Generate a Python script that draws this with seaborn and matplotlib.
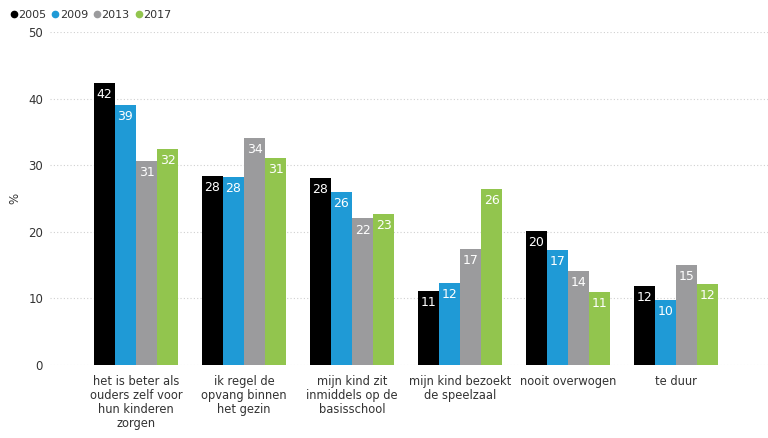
import pandas as pd
import matplotlib
matplotlib.use('Agg')
import matplotlib.pyplot as plt
import seaborn as sns
from matplotlib.lines import Line2D

categories = ['het is beter als\nouders zelf voor\nhun kinderen\nzorgen',
              'ik regel de\nopvang binnen\nhet gezin',
              'mijn kind zit\ninmiddels op de\nbasisschool',
              'mijn kind bezoekt\nde speelzaal',
              'nooit overwogen',
              'te duur']
years = ['2005', '2009', '2013', '2017']
v2005 = [42.4, 28.4, 28.1, 11.1, 20.1, 11.9]
v2009 = [39.1, 28.2, 26.0, 12.3, 17.3, 9.8]
v2013 = [30.7, 34.1, 22.0, 17.4, 14.1, 15.0]
v2017 = [32.4, 31.1, 22.7, 26.4, 11.0, 12.2]
labels = {'2005': [42, 28, 28, 11, 20, 12],
          '2009': [39, 28, 26, 12, 17, 10],
          '2013': [31, 34, 22, 17, 14, 15],
          '2017': [32, 31, 23, 26, 11, 12]}
colors = ['#000000', '#1f9ad6', '#9b9b9d', '#92c54e']

rows = []
for year, vals in zip(years, [v2005, v2009, v2013, v2017]):
    for cat, v in zip(categories, vals):
        rows.append({'reden': cat, 'jaar': year, 'pct': v})
df = pd.DataFrame(rows)

sns.set_style('white')
plt.rcParams['font.family'] = ['DejaVu Sans']

fig = plt.figure(figsize=(7.68, 4.38), dpi=100)
ax = fig.add_axes([50 / 768, 73 / 438, 718 / 768, 333 / 438])
sns.barplot(data=df, x='reden', y='pct', hue='jaar', palette=colors,
            width=0.78, saturation=1, linewidth=0, ax=ax, legend=False)

for cont, year in zip(ax.containers, years):
    ax.bar_label(cont, labels=[str(l) for l in labels[year]], padding=-13,
                 color='white', fontsize=9)

ax.set_ylim(0, 50)
ax.set_xlim(-0.796, 5.852)
ax.set_yticks([0, 10, 20, 30, 40, 50])
ax.yaxis.grid(True, linestyle=(0, (1, 2)), color='#d0d0d0', linewidth=0.8)
ax.set_axisbelow(True)
for s in ax.spines.values():
    s.set_visible(False)
ax.tick_params(axis='x', length=0, labelsize=8.3, colors='#333333', pad=7)
ax.tick_params(axis='y', length=0, labelsize=8.5, colors='#333333', pad=5)
for t in ax.get_xticklabels():
    t.set_linespacing(1.12)
    t.set_va('top')
ax.set_xlabel('')
ax.set_ylabel('%', fontsize=8.5, color='#333333')
ax.yaxis.set_label_coords(-0.04, 0.5)

handles = [Line2D([], [], marker='o', linestyle='', color=c, markersize=4.5)
           for c in colors]
fig.legend(handles, years, loc='upper left', bbox_to_anchor=(-0.002, 1.0), ncol=4,
           frameon=False, handletextpad=-0.1, columnspacing=0.3, fontsize=8,
           handlelength=1.0, labelcolor='#333333')

fig.savefig('out.png', dpi=100)
